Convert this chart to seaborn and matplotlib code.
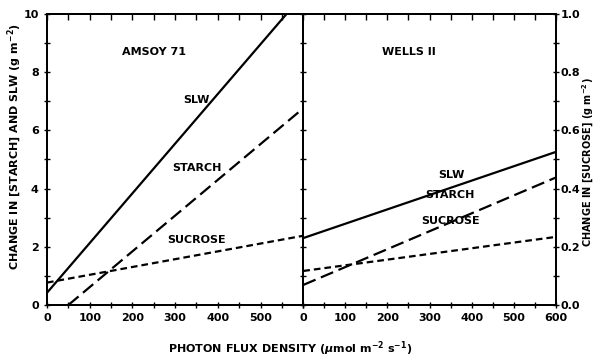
import matplotlib
matplotlib.use("Agg")
import matplotlib.pyplot as plt
import seaborn as sns
import pandas as pd
from matplotlib.ticker import MultipleLocator

sns.set_style("ticks")
plt.rcParams['font.family'] = ['DejaVu Sans']
plt.rcParams['font.weight'] = 'bold'
plt.rcParams['axes.linewidth'] = 1.3
for k in ['text.color', 'axes.labelcolor', 'xtick.color', 'ytick.color',
          'xtick.labelcolor', 'ytick.labelcolor', 'axes.edgecolor']:
    plt.rcParams[k] = 'black'

# ---- data ----
ppfd = [0, 600]
amsoy_slw = [0.42, 10.67]
amsoy_starch_x = [50, 600]
amsoy_starch = [0.0, 6.76]
amsoy_sucrose = [0.077, 0.238]
wells_slw = [2.30, 5.26]
wells_starch = [0.69, 4.38]
wells_sucrose = [0.117, 0.234]

left_xticks = [0, 100, 200, 300, 400, 500]
right_xticks = [0, 100, 200, 300, 400, 500, 600]
left_yticks = [0, 2, 4, 6, 8, 10]
right_yticks = [0.0, 0.2, 0.4, 0.6, 0.8, 1.0]
right_yticklabels = ["0.0", "0.2", "0.4", "0.6", "0.8", "1.0"]

fs = 8
lw = 1.6
STARCH_LS = (0, (6, 2.6))
SUCROSE_LS = (0, (3, 1.8))

fig = plt.figure(figsize=(5.97, 3.58), dpi=100)
ax1 = fig.add_axes([0.0787, 0.148, 0.4293, 0.813])
ax2 = fig.add_axes([0.508, 0.148, 0.423, 0.813])
ax1t = ax1.twinx()
ax2t = ax2.twinx()

def panel(ax, axt, slw, st_x, st, suc, title, labs):
    sns.lineplot(x=ppfd, y=slw, ax=ax, color='black', lw=lw)
    sns.lineplot(x=st_x, y=st, ax=ax, color='black', lw=lw, linestyle=STARCH_LS)
    sns.lineplot(x=ppfd, y=suc, ax=axt, color='black', lw=lw, linestyle=SUCROSE_LS)
    ax.set_xlim(0, 600)
    ax.set_ylim(0, 10)
    axt.set_ylim(0, 1)
    ax.text(250, 8.7, title, fontsize=fs, ha='center', va='center', fontweight='bold')
    for (tx, ty, s) in labs:
        ax.text(tx, ty, s, fontsize=fs, ha='center', va='center', fontweight='bold')
    ax.xaxis.set_minor_locator(MultipleLocator(50))
    ax.yaxis.set_minor_locator(MultipleLocator(1))
    ax.tick_params(axis='both', which='both', direction='inout', length=5, width=1,
                   labelsize=fs, top=False, right=False, colors='black')
    top = ax.secondary_xaxis('top')
    top.set_xticks([])
    top.xaxis.set_major_locator(MultipleLocator(50))
    top.tick_params(axis='x', which='both', direction='in', length=4, width=1, labeltop=False)
    for sp in ax.spines.values():
        sp.set_visible(True)
        sp.set_color('black')

panel(ax1, ax1t, amsoy_slw, amsoy_starch_x, amsoy_starch, amsoy_sucrose, "AMSOY 71",
      [(350, 7.05, "SLW"), (350, 4.7, "STARCH"), (350, 2.23, "SUCROSE")])
panel(ax2, ax2t, wells_slw, ppfd, wells_starch, wells_sucrose, "WELLS II",
      [(352, 4.47, "SLW"), (348, 3.78, "STARCH"), (351, 2.9, "SUCROSE")])

ax1.set_xticks(left_xticks)
ax1.set_yticks(left_yticks)
ax2.set_xticks(right_xticks)
ax2.set_yticks(left_yticks)
ax2.tick_params(axis='y', which='both', labelleft=False)
for lab in ax1.get_xticklabels() + ax1.get_yticklabels() + ax2.get_xticklabels():
    lab.set_fontweight('bold')

ax1t.set_yticks([])
ax1t.tick_params(axis='y', which='both', right=False, labelright=False)
ax2t.set_yticks(right_yticks)
ax2t.set_yticklabels(right_yticklabels, fontsize=fs, fontweight='bold')
ax2t.yaxis.set_minor_locator(MultipleLocator(0.1))
ax2t.tick_params(axis='y', which='both', direction='inout', length=5, width=1, pad=1,
                 colors='black')
for a in (ax1, ax2, ax1t, ax2t):
    a.set_xlabel("")
    a.set_ylabel("")

fig.text(0.025, 0.59, "CHANGE IN [STARCH] AND SLW (g m$^{-2}$)", rotation=90,
         ha='center', va='center', fontsize=fs, fontweight='bold')
fig.text(0.999, 0.547, "CHANGE IN [SUCROSE] (g m$^{-2}$)", rotation=90,
         ha='right', va='center', fontsize=7, fontweight='bold')
fig.text(0.486, 0.025, "PHOTON FLUX DENSITY ($\\mu$mol m$^{-2}$ s$^{-1}$)",
         ha='center', va='center', fontsize=fs, fontweight='bold')

fig.savefig("out.png", dpi=100)
